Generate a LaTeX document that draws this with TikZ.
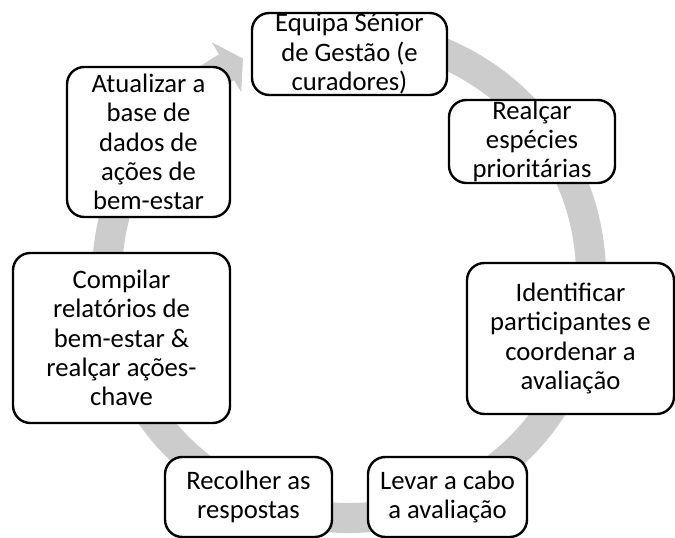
\documentclass[tikz,border=0pt]{standalone}
\usepackage{fontspec}
\setmainfont{Carlito}

\begin{document}
\begin{tikzpicture}[
  x=0.75pt, y=0.75pt,
  stage/.style={draw, line width=1.8pt, rounded corners=13pt, fill=white,
                align=center, inner sep=0pt, font=\fontsize{20}{22}\selectfont},
  ring/.style={fill=black!20}
]
\useasboundingbox (0,0) rectangle (675,538);

%% ── Cycle arrow ──────────────────────────────────────────────────────────────
%% Block arc round (349,262): mid radius 242, width 30, head at the upper left.

\begin{scope}[shift={(349,262)}]
\fill[ring] (100:257) arc[start angle=100, end angle=-239.6, radius=257]
  -- (120.4:271) -- (116:242) -- (120.4:213) -- (120.4:227)
  arc[start angle=-239.6, end angle=100, radius=227] -- cycle;
\end{scope}

%% ── Stages ───────────────────────────────────────────────────────────────────
%% Sizes are given in pt (1 unit = 0.75pt).

\node[stage, minimum width=146.25pt, minimum height=61.5pt] (senior) at (349.5, 484)
  {Equipa Sénior\\de Gestão (e\\curadores)};

\node[stage, minimum width=124.5pt, minimum height=62.25pt] (species) at (532, 396.5)
  {Realçar\\espécies\\prioritárias};

\node[stage, minimum width=155.25pt, minimum height=113.25pt] (identify) at (570.5, 199.5)
  {Identificar\\participantes e\\coordenar a\\avaliação};

\node[stage, minimum width=119.25pt, minimum height=60pt] (assess) at (447.5, 41)
  {Levar a cabo\\a avaliação};

\node[stage, minimum width=125.25pt, minimum height=60pt] (collect) at (248.5, 41)
  {Recolher as\\respostas};

\node[stage, minimum width=162.75pt, minimum height=127.5pt] (compile) at (121.5, 200)
  {Compilar\\relatórios de\\bem-estar \&\\realçar ações-\\chave};

\node[stage, minimum width=122.25pt, minimum height=112.5pt] (update) at (148.5, 396)
  {Atualizar a\\base de\\dados de\\ações de\\bem-estar};

\end{tikzpicture}
\end{document}
